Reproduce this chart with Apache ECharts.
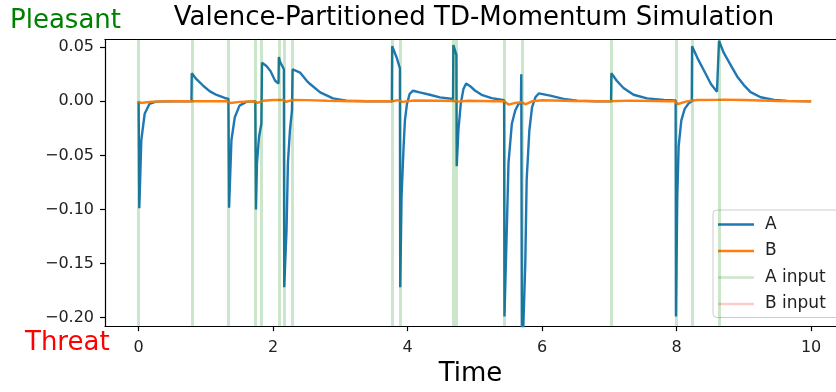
<!DOCTYPE html>
<html>
<head>
<meta charset="utf-8">
<script src="https://cdn.jsdelivr.net/npm/echarts@6/dist/echarts.min.js"></script>
<style>html,body{margin:0;padding:0;background:#fff}#chart{width:836px;height:392px}</style>
</head>
<body>
<div id="chart"></div>
<script>
// ---- data ----
const titleText = "Valence-Partitioned TD-Momentum Simulation";
const xTicks = [0, 2, 4, 6, 8, 10];
const yTicks = [-0.20, -0.15, -0.10, -0.05, 0.00, 0.05];
const seriesNames = ["A", "B", "A input", "B input"];

const seriesA = [
  [0,0],[0.01,-0.099],[0.04,-0.036],[0.09,-0.0115],[0.16,-0.0024],[0.26,-0.0003],[0.5,0],
  [0.785,0],[0.79,0.026],[0.86,0.0205],[0.96,0.0144],[1.06,0.0092],[1.16,0.0059],[1.28,0.0031],[1.335,0.0022],
  [1.345,-0.0985],[1.38,-0.036],[1.43,-0.0147],[1.5,-0.004],[1.6,-0.0005],[1.735,0],
  [1.745,-0.1],[1.76,-0.057],[1.79,-0.033],[1.825,-0.0207],[1.835,0.0357],[1.9,0.0327],[1.96,0.0281],[2.03,0.019],[2.08,0.0165],
  [2.085,0.041],[2.1,0.037],[2.16,0.0297],[2.165,-0.172],[2.2,-0.118],[2.22,-0.057],[2.25,-0.027],[2.28,-0.0085],
  [2.29,0.0297],[2.4,0.0266],[2.5,0.019],[2.55,0.016],[2.7,0.0082],[2.89,0.0027],[3.09,0.0006],[3.4,0],
  [3.765,0],[3.77,0.051],[3.79,0.048],[3.84,0.040],[3.885,0.0306],[3.89,-0.172],[3.91,-0.088],[3.94,-0.042],[3.96,-0.0177],
  [3.99,-0.0024],[4.03,0.0068],[4.08,0.0098],[4.18,0.0082],[4.33,0.0061],[4.48,0.0037],[4.675,0.0022],
  [4.68,0.052],[4.725,0.043],[4.73,-0.060],[4.755,-0.027],[4.79,-0.0024],[4.83,0.0114],[4.87,0.0165],[4.93,0.014],
  [5.0,0.010],[5.1,0.006],[5.25,0.003],[5.435,0.001],
  [5.44,-0.199],[5.475,-0.118],[5.5,-0.057],[5.55,-0.0207],[5.6,-0.0085],[5.65,-0.0024],[5.685,-0.001],
  [5.69,0.025],[5.70,-0.25],[5.75,-0.149],[5.77,-0.073],[5.81,-0.027],[5.85,-0.0055],[5.9,0.0037],[5.95,0.0073],
  [6.12,0.0052],[6.32,0.0022],[6.52,0.0006],[6.8,0],
  [7.025,0],[7.03,0.026],[7.11,0.019],[7.21,0.0123],[7.36,0.0061],[7.56,0.0027],[7.81,0.0012],[7.985,0.0008],
  [7.99,-0.199],[8.01,-0.088],[8.03,-0.042],[8.07,-0.0177],[8.12,-0.007],[8.18,-0.0018],[8.225,0],
  [8.23,0.051],[8.31,0.040],[8.41,0.028],[8.51,0.016],[8.6,0.0089],[8.625,0.0083],
  [8.63,0.056],[8.7,0.045],[8.8,0.034],[8.9,0.023],[9.0,0.015],[9.1,0.0085],[9.25,0.0038],[9.45,0.0013],[9.65,0.0004],[10,0]
];

const seriesB = [
  [0,0],[0.03,-0.0015],[0.2,-0.0003],[0.5,0],[1.3,0.0002],[1.37,-0.0015],[1.5,-0.0005],[1.72,0],
  [1.77,-0.0015],[1.85,0.0005],[2.0,0.0012],[2.15,0.0013],[2.19,-0.0004],[2.3,0.0012],[2.5,0.0011],
  [2.8,0.0005],[3.2,0.0001],[3.77,0],[3.85,0.001],[3.92,-0.0005],[4.1,0.0008],[4.5,0.0005],[4.7,0.0003],
  [4.75,-0.0003],[4.9,0.0005],[5.3,0.0001],[5.44,0],[5.5,-0.003],[5.6,-0.0015],[5.7,-0.0008],[5.75,-0.0028],
  [5.85,0],[6.0,0.001],[6.5,0.0003],[7.0,0],[7.3,0.0006],[7.9,0.0001],[7.97,0],[8.02,-0.0025],[8.15,0],
  [8.3,0.0012],[8.6,0.0013],[8.7,0.0016],[9.0,0.0012],[9.5,0.0003],[10,0]
];

const aInputTimes = [0, 0.79, 1.34, 1.74, 1.83, 2.09, 2.17, 2.29, 3.77, 3.89, 4.68, 4.73, 5.44, 5.70, 7.03, 7.99, 8.23, 8.63];
const bInputTimes = [];

// ---- chart ----
const FONT = "DejaVu Sans";
const chart = echarts.init(document.getElementById('chart'), null, {renderer: 'canvas'});
const fmtY = v => (v < -1e-9 ? '\u2212' : '') + Math.abs(v).toFixed(2);
const X_MIN = -0.5, X_MAX = 10.37; // plot is cropped at the right edge of the picture

chart.setOption({
  animation: false,
  backgroundColor: '#fff',
  textStyle: {fontFamily: FONT},
  grid: {left: 105, right: 0, top: 39.5, bottom: 62.5, show: false},
  xAxis: [{
    type: 'value', min: X_MIN, max: X_MAX,
    name: 'Time', nameLocation: 'middle', nameGap: 33,
    nameTextStyle: {fontFamily: FONT, fontSize: 26, color: '#000'},
    axisLine: {show: true, onZero: false, lineStyle: {color: '#000', width: 1.2}},
    axisTick: {show: true, length: 5, lineStyle: {color: '#000', width: 1.2}, customValues: xTicks},
    axisLabel: {fontFamily: FONT, fontSize: 16, color: '#222', margin: 14, customValues: xTicks, formatter: v => String(v)},
    splitLine: {show: false}
  }, {
    type: 'value', min: X_MIN, max: X_MAX, position: 'top',
    axisLine: {show: true, onZero: false, lineStyle: {color: '#000', width: 1.2}},
    axisTick: {show: false}, axisLabel: {show: false}, splitLine: {show: false}
  }],
  yAxis: {
    type: 'value', min: -0.208, max: 0.0572,
    axisLine: {show: true, onZero: false, lineStyle: {color: '#000', width: 1.2}},
    axisTick: {show: true, length: 5, lineStyle: {color: '#000', width: 1.2}, customValues: yTicks},
    axisLabel: {fontFamily: FONT, fontSize: 16, color: '#222', margin: 11, customValues: yTicks, formatter: fmtY},
    splitLine: {show: false}
  },
  legend: {
    orient: 'vertical', left: 713, top: 210,
    data: seriesNames,
    icon: 'rect', itemWidth: 36, itemHeight: 2.5, itemGap: 9.5,
    padding: [6, 20, 5, 5],
    backgroundColor: 'rgba(255,255,255,0.85)', borderColor: '#ccc', borderWidth: 1, borderRadius: 4,
    textStyle: {fontFamily: FONT, fontSize: 17, color: '#222', padding: [0, 0, 0, 6]}
  },
  graphic: [
    {type: 'text', x: 474, y: 18, style: {text: titleText, font: '26px "DejaVu Sans"', fill: '#000', align: 'center', verticalAlign: 'middle'}, z: 100},
    {type: 'text', x: 10, y: 21, style: {text: 'Pleasant', font: '26px "DejaVu Sans"', fill: '#008000', align: 'left', verticalAlign: 'middle'}, z: 100},
    {type: 'text', x: 25, y: 343, style: {text: 'Threat', font: '26px "DejaVu Sans"', fill: '#ff0000', align: 'left', verticalAlign: 'middle'}, z: 100}
  ],
  series: [
    {name: 'A', type: 'line', data: seriesA, showSymbol: false, symbol: 'none', color: '#1f77b4',
     lineStyle: {width: 2.4, color: '#1f77b4'}, clip: true, z: 2},
    {name: 'B', type: 'line', data: seriesB, showSymbol: false, symbol: 'none', color: '#ff7f0e',
     lineStyle: {width: 2.4, color: '#ff7f0e'}, clip: true, z: 3},
    {name: 'A input', type: 'line', data: [], color: 'rgba(0,128,0,0.2)', symbol: 'none',
     lineStyle: {color: 'rgba(0,128,0,0.2)'}, z: 4,
     markLine: {silent: true, symbol: ['none', 'none'], label: {show: false}, animation: false,
       lineStyle: {color: 'rgba(0,128,0,0.2)', width: 3, type: 'solid'},
       emphasis: {disabled: true},
       data: aInputTimes.map(t => ({xAxis: t}))}},
    {name: 'B input', type: 'line', data: [], color: 'rgba(255,0,0,0.2)', symbol: 'none',
     lineStyle: {color: 'rgba(255,0,0,0.2)'}, z: 4,
     markLine: {silent: true, symbol: ['none', 'none'], label: {show: false}, animation: false,
       lineStyle: {color: 'rgba(255,0,0,0.2)', width: 3, type: 'solid'},
       data: bInputTimes.map(t => ({xAxis: t}))}}
  ]
});
</script>
</body>
</html>
